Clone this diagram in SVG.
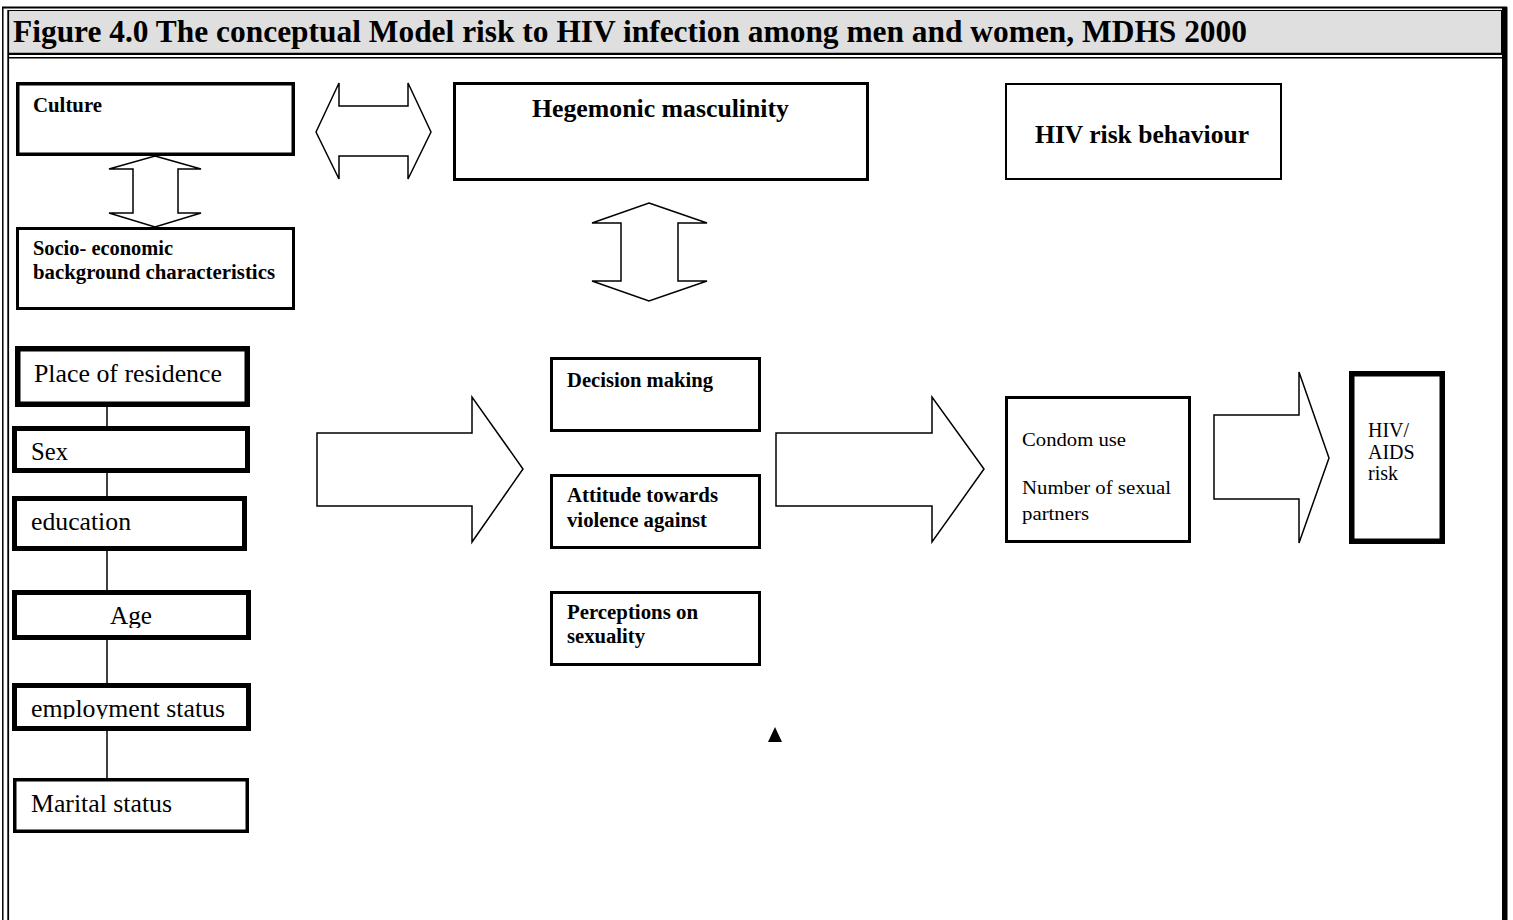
<svg xmlns="http://www.w3.org/2000/svg" width="1513" height="920" viewBox="0 0 1513 920">
<style>
  .box { fill: #ffffff; stroke: #000000; }
  .b { font-family: "Liberation Serif", "Times New Roman", serif; font-weight: bold; fill: #000; }
  .r { font-family: "Liberation Serif", "Times New Roman", serif; font-weight: normal; fill: #000; }
  .arr { fill: #ffffff; stroke: #000000; stroke-width: 1.5; stroke-linejoin: miter; }
  .ln { stroke: #000000; stroke-width: 1.5; fill: none; }
</style>
<defs>
  <clipPath id="clipAge"><rect x="14" y="590" width="236" height="38"/></clipPath>
  <clipPath id="clipEmp"><rect x="14" y="683" width="236" height="36"/></clipPath>
</defs>
<rect x="0" y="0" width="1513" height="920" fill="#ffffff"/>

<g id="frame">
  <rect x="8.5" y="10.5" width="1493" height="43.5" fill="#dfdfdf" stroke="#000" stroke-width="1"/>
  <line x1="2" y1="7.5" x2="1507" y2="7.5" stroke="#000" stroke-width="2"/>
  <line x1="2.8" y1="7" x2="2.8" y2="920" stroke="#000" stroke-width="1.5"/>
  <line x1="8" y1="53.8" x2="1502" y2="53.8" stroke="#000" stroke-width="2.2"/>
  <line x1="8" y1="57.8" x2="1502" y2="57.8" stroke="#000" stroke-width="1.5"/>
  <line x1="8.2" y1="10" x2="8.2" y2="920" stroke="#000" stroke-width="1.8"/>
  <rect x="1502" y="7" width="5.5" height="913" fill="#000"/>
</g>

<g id="title">
  <text class="b" x="13" y="41.5" font-size="31" textLength="1234" lengthAdjust="spacingAndGlyphs">Figure 4.0 The conceptual Model risk to HIV infection among men and women, MDHS 2000</text>
</g>

<g id="connectors">
  <polygon class="arr" points="316,132 339,83 339,106 408,106 408,83 431,132 408,179 408,156 339,156 339,179"/>
  <polygon class="arr" points="155,156 201,169 178,169 178,213 201,213 155,227 109,213 133,213 133,169 109,169"/>
  <polygon class="arr" points="649,203 707,223 678,223 678,281 707,281 649,301 592,281 621,281 621,223 592,223"/>
  <polygon class="arr" points="317,433 472,433 472,397 523,469 472,542 472,506 317,506"/>
  <polygon class="arr" points="776,433 932,433 932,397 984,469 932,542 932,506 776,506"/>
  <polygon class="arr" points="1214,415 1299,415 1299,372 1329,458 1299,543 1299,499 1214,499"/>
  <line class="ln" x1="107" y1="407" x2="107" y2="426"/>
  <line class="ln" x1="107" y1="473" x2="107" y2="496"/>
  <line class="ln" x1="107" y1="551" x2="107" y2="590"/>
  <line class="ln" x1="107" y1="640" x2="107" y2="683"/>
  <line class="ln" x1="107" y1="731" x2="107" y2="778"/>
  <polygon points="775,727 768,742 782,742" fill="#000"/>
</g>

<g id="culture">
  <rect class="box" x="17.75" y="83.75" width="275.5" height="70.5" stroke-width="3.5"/>
  <text class="b" x="33" y="112" font-size="20" textLength="69" lengthAdjust="spacingAndGlyphs">Culture</text>
</g>

<g id="socio">
  <rect class="box" x="17.5" y="228.5" width="276" height="80" stroke-width="3"/>
  <text class="b" x="33" y="255" font-size="20" textLength="140" lengthAdjust="spacingAndGlyphs">Socio- economic</text>
  <text class="b" x="33" y="279" font-size="20" textLength="242" lengthAdjust="spacingAndGlyphs">background characteristics</text>
</g>

<g id="hegemonic">
  <rect class="box" x="454.5" y="83.5" width="413" height="96" stroke-width="3"/>
  <text class="b" x="532" y="117" font-size="25" textLength="257" lengthAdjust="spacingAndGlyphs">Hegemonic masculinity</text>
</g>

<g id="hivbehaviour">
  <rect class="box" x="1006" y="84" width="275" height="95" stroke-width="2"/>
  <text class="b" x="1035" y="143" font-size="25" textLength="214" lengthAdjust="spacingAndGlyphs">HIV risk behaviour</text>
</g>

<g id="residence">
  <rect class="box" x="17.75" y="348.75" width="229.5" height="55.5" stroke-width="5.5"/>
  <text class="r" x="34" y="382" font-size="25" textLength="188" lengthAdjust="spacingAndGlyphs">Place of residence</text>
</g>

<g id="sex">
  <rect class="box" x="14.5" y="428.5" width="233" height="42" stroke-width="5"/>
  <text class="r" x="31" y="460" font-size="25" textLength="37" lengthAdjust="spacingAndGlyphs">Sex</text>
</g>

<g id="education">
  <rect class="box" x="14.5" y="498.5" width="230" height="50" stroke-width="5"/>
  <text class="r" x="31" y="530" font-size="25" textLength="100" lengthAdjust="spacingAndGlyphs">education</text>
</g>

<g id="age">
  <rect class="box" x="14.5" y="592.5" width="234" height="45" stroke-width="5"/>
  <text class="r" x="110" y="624" font-size="25" textLength="42" lengthAdjust="spacingAndGlyphs" clip-path="url(#clipAge)">Age</text>
</g>

<g id="employment">
  <rect class="box" x="14.5" y="685.5" width="234" height="43" stroke-width="5"/>
  <text class="r" x="31" y="717" font-size="25" textLength="194" lengthAdjust="spacingAndGlyphs" clip-path="url(#clipEmp)">employment status</text>
</g>

<g id="marital">
  <rect class="box" x="14.75" y="779.75" width="232.5" height="51.5" stroke-width="3.5"/>
  <text class="r" x="31" y="812" font-size="25" textLength="141" lengthAdjust="spacingAndGlyphs">Marital status</text>
</g>

<g id="decision">
  <rect class="box" x="551.5" y="358.5" width="208" height="72" stroke-width="3"/>
  <text class="b" x="567" y="387" font-size="20" textLength="146" lengthAdjust="spacingAndGlyphs">Decision making</text>
</g>

<g id="attitude">
  <rect class="box" x="551.5" y="475.5" width="208" height="72" stroke-width="3"/>
  <text class="b" x="567" y="502" font-size="20" textLength="151" lengthAdjust="spacingAndGlyphs">Attitude towards</text>
  <text class="b" x="567" y="527" font-size="20" textLength="140" lengthAdjust="spacingAndGlyphs">violence against</text>
</g>

<g id="perceptions">
  <rect class="box" x="551.5" y="592.5" width="208" height="72" stroke-width="3"/>
  <text class="b" x="567" y="619" font-size="20" textLength="131" lengthAdjust="spacingAndGlyphs">Perceptions on</text>
  <text class="b" x="567" y="643" font-size="20" textLength="78" lengthAdjust="spacingAndGlyphs">sexuality</text>
</g>

<g id="condom">
  <rect class="box" x="1006.5" y="397.5" width="183" height="144" stroke-width="3"/>
  <text class="r" x="1022" y="446" font-size="19" textLength="104" lengthAdjust="spacingAndGlyphs">Condom use</text>
  <text class="r" x="1022" y="494" font-size="19" textLength="149" lengthAdjust="spacingAndGlyphs">Number of sexual</text>
  <text class="r" x="1022" y="520" font-size="19" textLength="67" lengthAdjust="spacingAndGlyphs">partners</text>
</g>

<g id="hivaids">
  <rect class="box" x="1351.75" y="373.75" width="90.5" height="167.5" stroke-width="5.5"/>
  <text class="r" x="1368" y="437" font-size="20">HIV/</text>
  <text class="r" x="1368" y="459" font-size="20">AIDS</text>
  <text class="r" x="1368" y="480" font-size="20">risk</text>
</g>
</svg>
